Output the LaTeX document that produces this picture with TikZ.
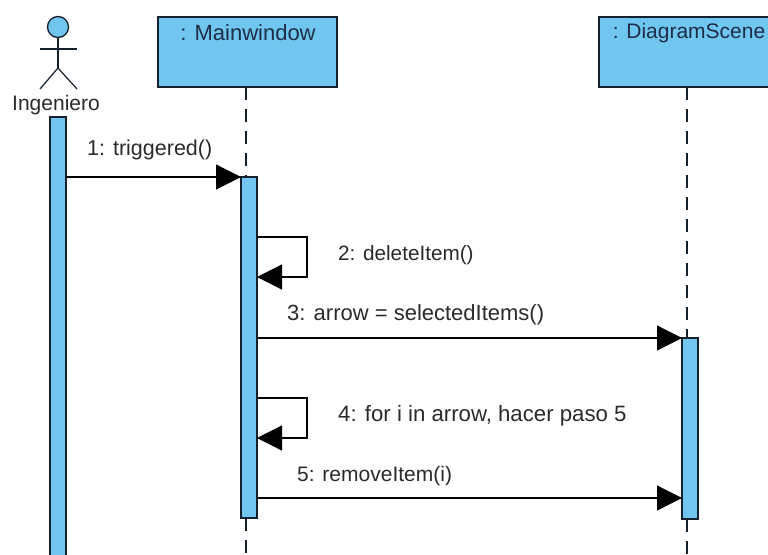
\documentclass[tikz,border=0pt]{standalone}
\usepackage{fontspec}
\setmainfont{Liberation Sans}
\usetikzlibrary{arrows.meta}
\definecolor{umlblue}{HTML}{70C6EF}
\definecolor{umlline}{HTML}{14202C}
\definecolor{umltext}{HTML}{1C2E48}
\definecolor{msgtext}{HTML}{2A2A2A}
\tikzset{
  x=1pt,y=-1pt,
  objbox/.style={draw=umlline,fill=umlblue,line width=1.4pt,anchor=north west,inner sep=0pt,outer sep=0pt},
  actbox/.style={draw=umlline,fill=umlblue,line width=1.3pt,anchor=north west,inner sep=0pt,outer sep=0pt,minimum width=16pt},
  objlabel/.style={font=\fontsize{22}{24}\selectfont,text=umltext,inner sep=0pt},
  msglabel/.style={font=\fontsize{22}{24}\selectfont,text=msgtext,inner sep=0pt},
  lifeline/.style={draw=umlline,line width=1.3pt,dash pattern=on 13pt off 9pt},
  msgline/.style={draw=black,line width=1.2pt,-{Triangle[length=25pt,width=25pt]}},
  actorline/.style={draw=umlline,line width=1.2pt},
}
\begin{document}
\begin{tikzpicture}
\useasboundingbox (0,0) rectangle (768,554);
% objects
\node[objbox,minimum width=179pt,minimum height=70pt] (mw) at (158,17) {};
\node[objbox,minimum width=176pt,minimum height=70pt] (ds) at (599,17) {};
\node[objlabel] (mwt) at (248,33) {: Mainwindow};
\node[objlabel,font=\fontsize{21}{24}\selectfont] (dst) at (689,33) {: DiagramScene};
% ending coordinates
\coordinate (endmw) at (246,554);
\coordinate (endds) at (687,554);
% activations
\node[actbox,minimum height=447pt] (a1) at (50,117) {};
\node[actbox,minimum height=341pt] (a2) at (241,177) {};
\node[actbox,minimum height=181pt] (a3) at (682,338) {};
% lifelines
\draw[lifeline] (mw.south -| endmw) -- (a2.north -| endmw);
\draw[lifeline] (a2.south -| endmw) -- (endmw);
\draw[lifeline] (ds.south -| endds) -- (a3.north -| endds);
\draw[lifeline] (a3.south -| endds) -- (endds);
% actor
\node[circle,draw=umlline,fill=umlblue,line width=1.3pt,minimum size=21pt,inner sep=0pt] (head) at (58,27) {};
\coordinate (hip) at (58,68);
\coordinate (sl) at (40,49);
\coordinate (sr) at (77,49);
\coordinate (fl) at (40,89);
\coordinate (fr) at (77,89);
\draw[actorline] (head.south) -- (hip);
\draw[actorline] (sl) -- (sr);
\draw[actorline] (fl) -- (hip) -- (fr);
\node[msglabel,font=\fontsize{21}{24}\selectfont] (ing) at (56,105) {Ingeniero};
% message levels
\coordinate (m1) at (0,177);
\coordinate (m2a) at (0,237);
\coordinate (m2b) at (0,277);
\coordinate (m3) at (0,338);
\coordinate (m4a) at (0,398);
\coordinate (m4b) at (0,438);
\coordinate (m5) at (0,498);
\coordinate (loopx) at (307,0);
% messages
\draw[msgline] (a1.east |- m1) -- (a2.west |- m1);
\draw[msgline] (a2.east |- m2a) -- (loopx |- m2a) -- (loopx |- m2b) -- (a2.east |- m2b);
\draw[msgline] (a2.east |- m3) -- (a3.west |- m3);
\draw[msgline] (a2.east |- m4a) -- (loopx |- m4a) -- (loopx |- m4b) -- (a2.east |- m4b);
\draw[msgline] (a2.east |- m5) -- (a3.west |- m5);
% labels
\node[msglabel,anchor=west,font=\fontsize{21.5}{24}\selectfont] (l1) at (87,150) {1: triggered()};
\node[msglabel,anchor=west,font=\fontsize{20.7}{24}\selectfont] (l2) at (338,255) {2: deleteItem()};
\node[msglabel,anchor=west] (l3) at (287,315) {3: arrow = selectedItems()};
\node[msglabel,anchor=west,font=\fontsize{22.2}{24}\selectfont] (l4) at (338,416) {4: for i in arrow, hacer paso 5};
\node[msglabel,anchor=west,font=\fontsize{21}{24}\selectfont] (l5) at (297,476) {5: removeItem(i)};
\end{tikzpicture}
\end{document}
